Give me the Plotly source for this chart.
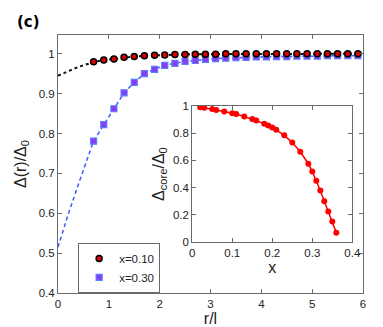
import plotly.graph_objects as go

# ---- data ----
r_markers = [0.7 + 0.2 * k for k in range(27)]
d_x010 = [0.980, 0.984, 0.987, 0.991, 0.993, 0.995, 0.996, 0.997, 0.998, 0.998,
          0.999, 0.999, 0.999, 1.000, 1.000, 1.000, 1.000, 1.000, 1.000, 1.000,
          1.000, 1.000, 1.000, 1.000, 1.000, 1.000, 1.000]
d_x030 = [0.781, 0.822, 0.862, 0.902, 0.928, 0.950, 0.961, 0.971, 0.976, 0.981,
          0.983, 0.986, 0.988, 0.989, 0.990, 0.991, 0.992, 0.992, 0.993, 0.993,
          0.994, 0.994, 0.994, 0.995, 0.995, 0.995, 0.995]
r_fit = [0.0, 0.2, 0.4, 0.6, 0.7]
fit_x010 = [0.945, 0.957, 0.967, 0.975, 0.980]
fit_x030 = [0.515, 0.597, 0.672, 0.742, 0.781]

x_conc = [0.02, 0.03, 0.05, 0.06, 0.08, 0.10, 0.11, 0.13, 0.15, 0.16, 0.18, 0.19,
          0.20, 0.21, 0.23, 0.25, 0.27, 0.29, 0.30, 0.31, 0.32, 0.33, 0.34, 0.35, 0.36]
d_core = [0.990, 0.986, 0.978, 0.971, 0.959, 0.947, 0.940, 0.923, 0.904, 0.894,
          0.870, 0.856, 0.842, 0.825, 0.784, 0.731, 0.664, 0.576, 0.518, 0.451,
          0.379, 0.300, 0.225, 0.151, 0.070]

BLACK_LINE = "#111111"
BLUE_LINE = "#3b5bff"
AX = "#6a6a6a"
FONT = "Liberation Sans"

fig = go.Figure()

# black series (x=0.10)
fig.add_trace(go.Scatter(x=r_fit + r_markers, y=fit_x010 + d_x010, mode="lines",
                         line=dict(color=BLACK_LINE, width=2, dash="3px,3px"),
                         showlegend=False, hoverinfo="skip"))
# blue series (x=0.30)
fig.add_trace(go.Scatter(x=r_fit + r_markers, y=fit_x030 + d_x030, mode="lines",
                         line=dict(color=BLUE_LINE, width=1.5, dash="4px,3px"),
                         showlegend=False, hoverinfo="skip"))
fig.add_trace(go.Scatter(x=r_markers, y=d_x030, mode="markers", name="x=0.30",
                         marker=dict(symbol="square", size=6, color="#8a3cf0",
                                     line=dict(color="#5a7aff", width=1.2))))
fig.add_trace(go.Scatter(x=r_markers, y=d_x010, mode="markers", name="x=0.10",
                         marker=dict(symbol="circle", size=6, color="#e00000",
                                     line=dict(color="#000000", width=1.5))))

# inset
fig.add_trace(go.Scatter(x=x_conc, y=d_core, mode="lines+markers", xaxis="x2", yaxis="y2",
                         line=dict(color="#ff0000", width=1.5),
                         marker=dict(symbol="circle", size=6, color="#ff0000"),
                         showlegend=False))

axis_common = dict(showline=True, linecolor=AX, linewidth=1, mirror="ticks",
                   ticks="inside", ticklen=4, tickcolor=AX, showgrid=False,
                   zeroline=False, tickfont=dict(family=FONT, size=11.5, color="#222"))

fig.update_layout(
    width=383, height=327,
    margin=dict(l=50, r=28, t=27, b=37),
    paper_bgcolor="white", plot_bgcolor="white",
    font=dict(family=FONT, color="#222"),
    xaxis=dict(range=[0, 6], tickvals=[0, 1, 2, 3, 4, 5, 6], domain=[0, 1],
               title=dict(text="r/l", font=dict(family=FONT, size=16), standoff=2),
               **axis_common),
    yaxis=dict(range=[0.4, 1.047], tickvals=[0.4, 0.5, 0.6, 0.7, 0.8, 0.9, 1.0],
               ticktext=["0.4", "0.5", "0.6", "0.7", "0.8", "0.9", "1"], domain=[0, 1],
               title=dict(text="Δ(r)/Δ<sub>0</sub>", font=dict(family=FONT, size=16), standoff=8),
               **axis_common),
    xaxis2=dict(range=[0, 0.4], tickvals=[0, 0.1, 0.2, 0.3, 0.4],
                ticktext=["0", "0.1", "0.2", "0.3", "0.4"],
                domain=[0.440, 0.965], anchor="y2",
                title=dict(text="x", font=dict(family=FONT, size=16), standoff=0),
                **axis_common),
    yaxis2=dict(range=[0, 1], tickvals=[0, 0.2, 0.4, 0.6, 0.8, 1.0],
                ticktext=["0", "0.2", "0.4", "0.6", "0.8", "1"],
                domain=[0.197, 0.725], anchor="x2",
                title=dict(text="Δ<sub>core</sub>/Δ<sub>0</sub>", font=dict(family=FONT, size=16), standoff=4),
                **axis_common),
    legend=dict(x=0.066, y=0.194, xanchor="left", yanchor="top",
                bgcolor="white", bordercolor=AX, borderwidth=1,
                font=dict(family=FONT, size=11.5, color="#222"),
                traceorder="reversed", itemwidth=30, tracegroupgap=0),
    annotations=[dict(text="<b>(c)</b>", x=-0.14, y=1.05, xref="paper", yref="paper",
                      xanchor="left", yanchor="middle", showarrow=False,
                      font=dict(family="DejaVu Sans", size=15, color="#000"))],
)

fig.write_html("out.html")
